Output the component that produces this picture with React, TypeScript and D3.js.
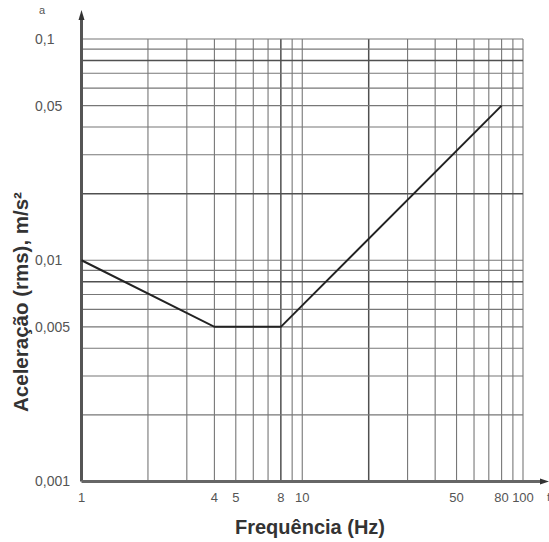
import React from "react";
import * as d3 from "d3";

const freqTicks = [1, 4, 5, 8, 10, 50, 80, 100];
const freqTickLabels = ["1", "4", "5", "8", "10", "50", "80", "100"];
const accTicks = [0.001, 0.005, 0.01, 0.05, 0.1];
const accTickLabels = ["0,001", "0,005", "0,01", "0,05", "0,1"];
const curveFreq = [1, 4, 8, 80];
const curveAcc = [0.01, 0.005, 0.005, 0.05];
const xGrid = [2, 3, 4, 5, 6, 7, 8, 9, 10, 20, 30, 40, 50, 60, 70, 80, 90, 100];
const yGrid = [0.002, 0.003, 0.004, 0.005, 0.006, 0.007, 0.008, 0.009, 0.01, 0.02, 0.03, 0.04, 0.05, 0.06, 0.07, 0.08, 0.09, 0.1];
const strongX = [8, 20];
const strongY = [0.08, 0.02, 0.008];

export default function App() {
  const W = 549, H = 542;
  const x = d3.scaleLog().domain([1, 100]).range([81.5, 523]);
  const y = d3.scaleLog().domain([0.001, 0.1]).range([481.5, 39]);
  const line = d3.line<number>().x((d) => x(curveFreq[d])).y((d) => y(curveAcc[d]));
  const idx = curveFreq.map((_, i) => i);
  const font = "'Liberation Sans', Arial, sans-serif";
  return (
    <svg width={W} height={H} style={{ position: "absolute", left: 0, top: 0, background: "#fff" }} fontFamily={font}>
      {xGrid.map((v) => {
        const s = strongX.includes(v);
        return <line key={"xg" + v} x1={x(v)} x2={x(v)} y1={y(0.1)} y2={y(0.001)} stroke={s ? "#505050" : "#777"} strokeWidth={s ? 1.5 : 1.1} />;
      })}
      {yGrid.map((v) => {
        const s = strongY.includes(v);
        return <line key={"yg" + v} x1={x(1)} x2={x(100)} y1={y(v)} y2={y(v)} stroke={s ? "#505050" : "#777"} strokeWidth={s ? 1.5 : 1.1} />;
      })}
      {/* axes */}
      <line x1={x(1)} x2={x(1)} y1={y(0.001)} y2={16} stroke="#555" strokeWidth={3} />
      <path d={`M${x(1) - 3},${20} L${x(1)},${10} L${x(1) + 3},${20} Z`} fill="#333" />
      <line x1={x(1)} x2={543} y1={y(0.001)} y2={y(0.001)} stroke="#666" strokeWidth={3} />
      <path d={`M${540},${y(0.001) - 3} L${549},${y(0.001)} L${540},${y(0.001) + 3} Z`} fill="#333" />
      <path d={line(idx) || ""} fill="none" stroke="#222" strokeWidth={2} />
      {accTicks.map((v, i) => (
        <text key={"yt" + i} x={35} y={y(v)} dy="0.35em" fontSize={14} fill="#555">{accTickLabels[i]}</text>
      ))}
      {freqTicks.map((v, i) => (
        <text key={"xt" + i} x={x(v)} y={497} dy="0.35em" fontSize={13} fill="#555" textAnchor="middle">{freqTickLabels[i]}</text>
      ))}
      <text x={42} y={14} fontSize={11} fill="#555" textAnchor="middle">a</text>
      <text x={547} y={497} dy="0.35em" fontSize={11} fill="#555">f</text>
      <text x={310} y={527} dy="0.35em" fontSize={20} fontWeight="bold" fill="#333" textAnchor="middle">Frequência (Hz)</text>
      <text transform={`translate(21,302) rotate(-90)`} dy="0.35em" fontSize={20.5} fontWeight="bold" fill="#333" textAnchor="middle">Aceleração (rms), m/s²</text>
    </svg>
  );
}
